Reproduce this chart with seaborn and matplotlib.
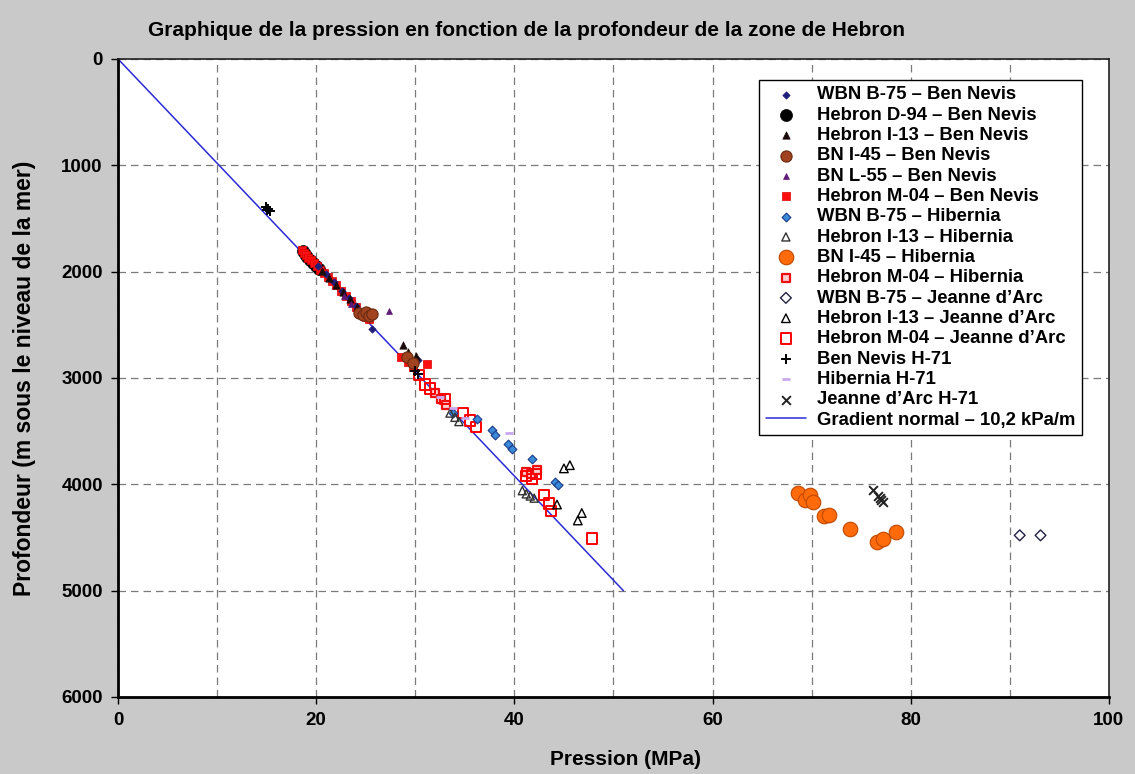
import matplotlib
matplotlib.use("Agg")
import matplotlib.pyplot as plt
import seaborn as sns
import numpy as np

# ---- data ----
wbn_bn_x = [20.2, 21.0, 21.8, 22.6, 23.3, 24.0, 25.6, 30.3]
wbn_bn_y = [1950, 2020, 2100, 2180, 2250, 2320, 2540, 2830]

d94_bn_x = [18.7, 18.9, 19.1, 19.4, 19.7, 20.0, 20.3]
d94_bn_y = [1810, 1830, 1860, 1890, 1920, 1950, 1975]

i13_bn_x = [20.6, 21.3, 22.0, 22.7, 23.4, 24.1, 28.8, 29.3, 30.1]
i13_bn_y = [1990, 2060, 2130, 2190, 2260, 2330, 2690, 2760, 2790]

i45_bn_x = [24.3, 24.7, 25.0, 25.3, 25.6, 29.2, 29.8]
i45_bn_y = [2390, 2410, 2380, 2420, 2400, 2800, 2860]

l55_bn_x = [22.8, 23.5, 24.2, 27.3]
l55_bn_y = [2230, 2300, 2370, 2370]

m04_bn_x = [18.6, 18.8, 19.0, 19.2, 19.5, 19.8, 20.1, 20.4, 20.8, 21.2, 21.6, 22.0,
            22.5, 23.0, 23.5, 24.0, 24.5, 25.0, 25.3, 28.6, 29.3, 29.8, 31.2]
m04_bn_y = [1800, 1820, 1845, 1870, 1895, 1920, 1950, 1980, 2010, 2050, 2090, 2130,
            2180, 2230, 2280, 2330, 2380, 2430, 2450, 2800, 2850, 2900, 2870]

wbn_hib_x = [33.8, 36.2, 37.7, 38.0, 39.4, 39.8, 41.8, 44.1, 44.4]
wbn_hib_y = [3330, 3390, 3490, 3540, 3620, 3670, 3760, 3980, 4010]

i13_hib_x = [33.5, 34.0, 34.4, 40.8, 41.2, 41.6, 42.0]
i13_hib_y = [3330, 3370, 3410, 4060, 4090, 4110, 4130]

i45_hib_x = [68.6, 69.3, 69.8, 70.1, 71.2, 71.8, 73.9, 76.6, 77.2, 78.5]
i45_hib_y = [4080, 4150, 4100, 4170, 4300, 4290, 4420, 4540, 4515, 4450]

m04_hib_x = [32.0, 32.6, 33.1, 41.2, 41.7, 42.3]
m04_hib_y = [3140, 3200, 3250, 3880, 3900, 3870]

wbn_jda_x = [91.0, 93.1]
wbn_jda_y = [4480, 4480]

i13_jda_x = [45.0, 45.6, 44.3, 46.4, 46.8]
i13_jda_y = [3850, 3820, 4190, 4340, 4270]

m04_jda_x = [30.4, 31.0, 31.5, 33.0, 34.8, 35.5, 36.1, 41.2, 41.8, 42.2, 43.0, 43.5, 43.7, 47.8]
m04_jda_y = [2970, 3060, 3100, 3200, 3330, 3400, 3460, 3920, 3950, 3900, 4100, 4180, 4250, 4510]

bn_h71_x = [14.9, 15.1, 15.3, 15.0, 30.0, 30.3]
bn_h71_y = [1390, 1410, 1430, 1420, 2930, 2960]

hib_h71_x = [32.5, 33.8, 35.0, 39.5]
hib_h71_y = [3180, 3280, 3380, 3520]

jda_h71_x = [76.2, 76.7, 77.0, 77.2, 76.9]
jda_h71_y = [4050, 4110, 4150, 4170, 4130]

grad_x = [0, 51]
grad_y = [0, 5000]

labels = [
    "WBN B-75 \u2013 Ben Nevis",
    "Hebron D-94 \u2013 Ben Nevis",
    "Hebron I-13 \u2013 Ben Nevis",
    "BN I-45 \u2013 Ben Nevis",
    "BN L-55 \u2013 Ben Nevis",
    "Hebron M-04 \u2013 Ben Nevis",
    "WBN B-75 \u2013 Hibernia",
    "Hebron I-13 \u2013 Hibernia",
    "BN I-45 \u2013 Hibernia",
    "Hebron M-04 \u2013 Hibernia",
    "WBN B-75 \u2013 Jeanne d\u2019Arc",
    "Hebron I-13 \u2013 Jeanne d\u2019Arc",
    "Hebron M-04 \u2013 Jeanne d\u2019Arc",
    "Ben Nevis H-71",
    "Hibernia H-71",
    "Jeanne d\u2019Arc H-71",
    "Gradient normal \u2013 10,2 kPa/m",
]

# ---- style ----
sns.set_theme(style="white")
plt.rcParams['font.family'] = ['Liberation Sans', 'DejaVu Sans']
plt.rcParams['font.weight'] = 'bold'
for k in ["text.color", "axes.labelcolor", "xtick.color", "ytick.color"]:
    plt.rcParams[k] = "black"

bg = "#c9c9c9"
fig = plt.figure(figsize=(11.35, 7.74), dpi=100, facecolor=bg)
ax = fig.add_axes([0.104, 0.0995, 0.873, 0.8243])
ax.set_facecolor("white")

sns.lineplot(x=grad_x, y=grad_y, ax=ax, color="#2b2bd6", linewidth=1.1,
             label=labels[16], zorder=2, sort=False)

series = [
    (wbn_bn_x, wbn_bn_y, dict(marker="D", s=14, facecolor="#1f1f7a", edgecolor="#1f1f7a", linewidth=0.5)),
    (d94_bn_x, d94_bn_y, dict(marker="o", s=75, facecolor="black", edgecolor="black", linewidth=0.5)),
    (i13_bn_x, i13_bn_y, dict(marker="^", s=28, facecolor="#1a0a0a", edgecolor="#1a0a0a", linewidth=0.5)),
    (i45_bn_x, i45_bn_y, dict(marker="o", s=65, facecolor="#a0431e", edgecolor="#6a2a12", linewidth=0.8)),
    (l55_bn_x, l55_bn_y, dict(marker="^", s=18, facecolor="#5e1a78", edgecolor="#5e1a78", linewidth=0.5)),
    (m04_bn_x, m04_bn_y, dict(marker="s", s=30, facecolor="#ff1010", edgecolor="#e00000", linewidth=0.5)),
    (wbn_hib_x, wbn_hib_y, dict(marker="D", s=20, facecolor="#3a8ad8", edgecolor="#1c3c8c", linewidth=0.8)),
    (i13_hib_x, i13_hib_y, dict(marker="^", s=34, facecolor="none", edgecolor="#333333", linewidth=1.0)),
    (i45_hib_x, i45_hib_y, dict(marker="o", s=110, facecolor="#ff6a0a", edgecolor="#c04800", linewidth=0.8)),
    (m04_hib_x, m04_hib_y, dict(marker="s", s=40, facecolor="#ffd0d0", edgecolor="#ee1010", linewidth=1.6)),
    (wbn_jda_x, wbn_jda_y, dict(marker="D", s=30, facecolor="none", edgecolor="#222244", linewidth=1.0)),
    (i13_jda_x, i13_jda_y, dict(marker="^", s=38, facecolor="none", edgecolor="black", linewidth=1.0)),
    (m04_jda_x, m04_jda_y, dict(marker="s", s=55, facecolor="none", edgecolor="#ff0000", linewidth=1.4)),
    (bn_h71_x, bn_h71_y, dict(marker="+", s=45, color="black", linewidth=1.4)),
    (hib_h71_x, hib_h71_y, dict(marker="_", s=40, color="#c9a8ee", linewidth=2.0)),
    (jda_h71_x, jda_h71_y, dict(marker="x", s=40, color="#222222", linewidth=1.4)),
]

draw_order = [1, 5, 9, 12, 0, 2, 4, 3, 6, 7, 8, 10, 11, 13, 14, 15]
for z, i in enumerate(draw_order):
    xs, ys, kw = series[i]
    sns.scatterplot(x=xs, y=ys, ax=ax, label=labels[i], zorder=3 + z * 0.01, **kw)

# axes
ax.set_xlim(0, 100)
ax.set_ylim(6000, 0)
ax.set_xticks(np.arange(0, 101, 20))
ax.set_xticks(np.arange(10, 100, 20), minor=True)
ax.set_yticks(np.arange(0, 6001, 1000))
ax.set_yticklabels([str(v) for v in range(0, 6001, 1000)])
ax.grid(True, which="both", axis="x", color="#7a7a7a", linestyle=(0, (6, 4)), linewidth=0.9)
ax.grid(True, which="major", axis="y", color="#7a7a7a", linestyle=(0, (6, 4)), linewidth=0.9)
ax.set_axisbelow(True)
ax.tick_params(axis="both", which="major", direction="out", length=5, width=1,
               color="black", labelsize=13.5, pad=6, left=True, bottom=True)
ax.tick_params(axis="x", which="minor", length=0)
for lab in ax.get_xticklabels() + ax.get_yticklabels():
    lab.set_fontweight("bold")

for side in ["left", "bottom"]:
    ax.spines[side].set_color("black")
    ax.spines[side].set_linewidth(2.0)
for side in ["top", "right"]:
    ax.spines[side].set_color("#222222")
    ax.spines[side].set_linewidth(1.2)

ax.set_xlabel("Pression (MPa)", fontsize=15, fontweight="bold")
ax.set_ylabel("Profondeur (m sous le niveau de la mer)", fontsize=16.5, fontweight="bold")
ax.xaxis.set_label_coords(0.512, -0.083)
ax.yaxis.set_label_coords(-0.083, 0.5)

fig.text(0.464, 0.961, "Graphique de la pression en fonction de la profondeur de la zone de Hebron",
         ha="center", va="center", fontsize=15, fontweight="bold")

handles, lbls = ax.get_legend_handles_labels()
hmap = {l: h for h, l in zip(handles, lbls)}
leg = ax.legend([hmap[l] for l in labels], labels, loc="upper right",
                bbox_to_anchor=(0.973, 0.967), frameon=True, fancybox=False,
                edgecolor="black", framealpha=1,
                labelspacing=0.18, handlelength=2.2, handletextpad=0.6,
                borderpad=0.35, borderaxespad=0,
                prop={"weight": "bold", "size": 13.3})
leg.get_frame().set_linewidth(1.0)

fig.savefig("out.png", dpi=100, facecolor=bg)
